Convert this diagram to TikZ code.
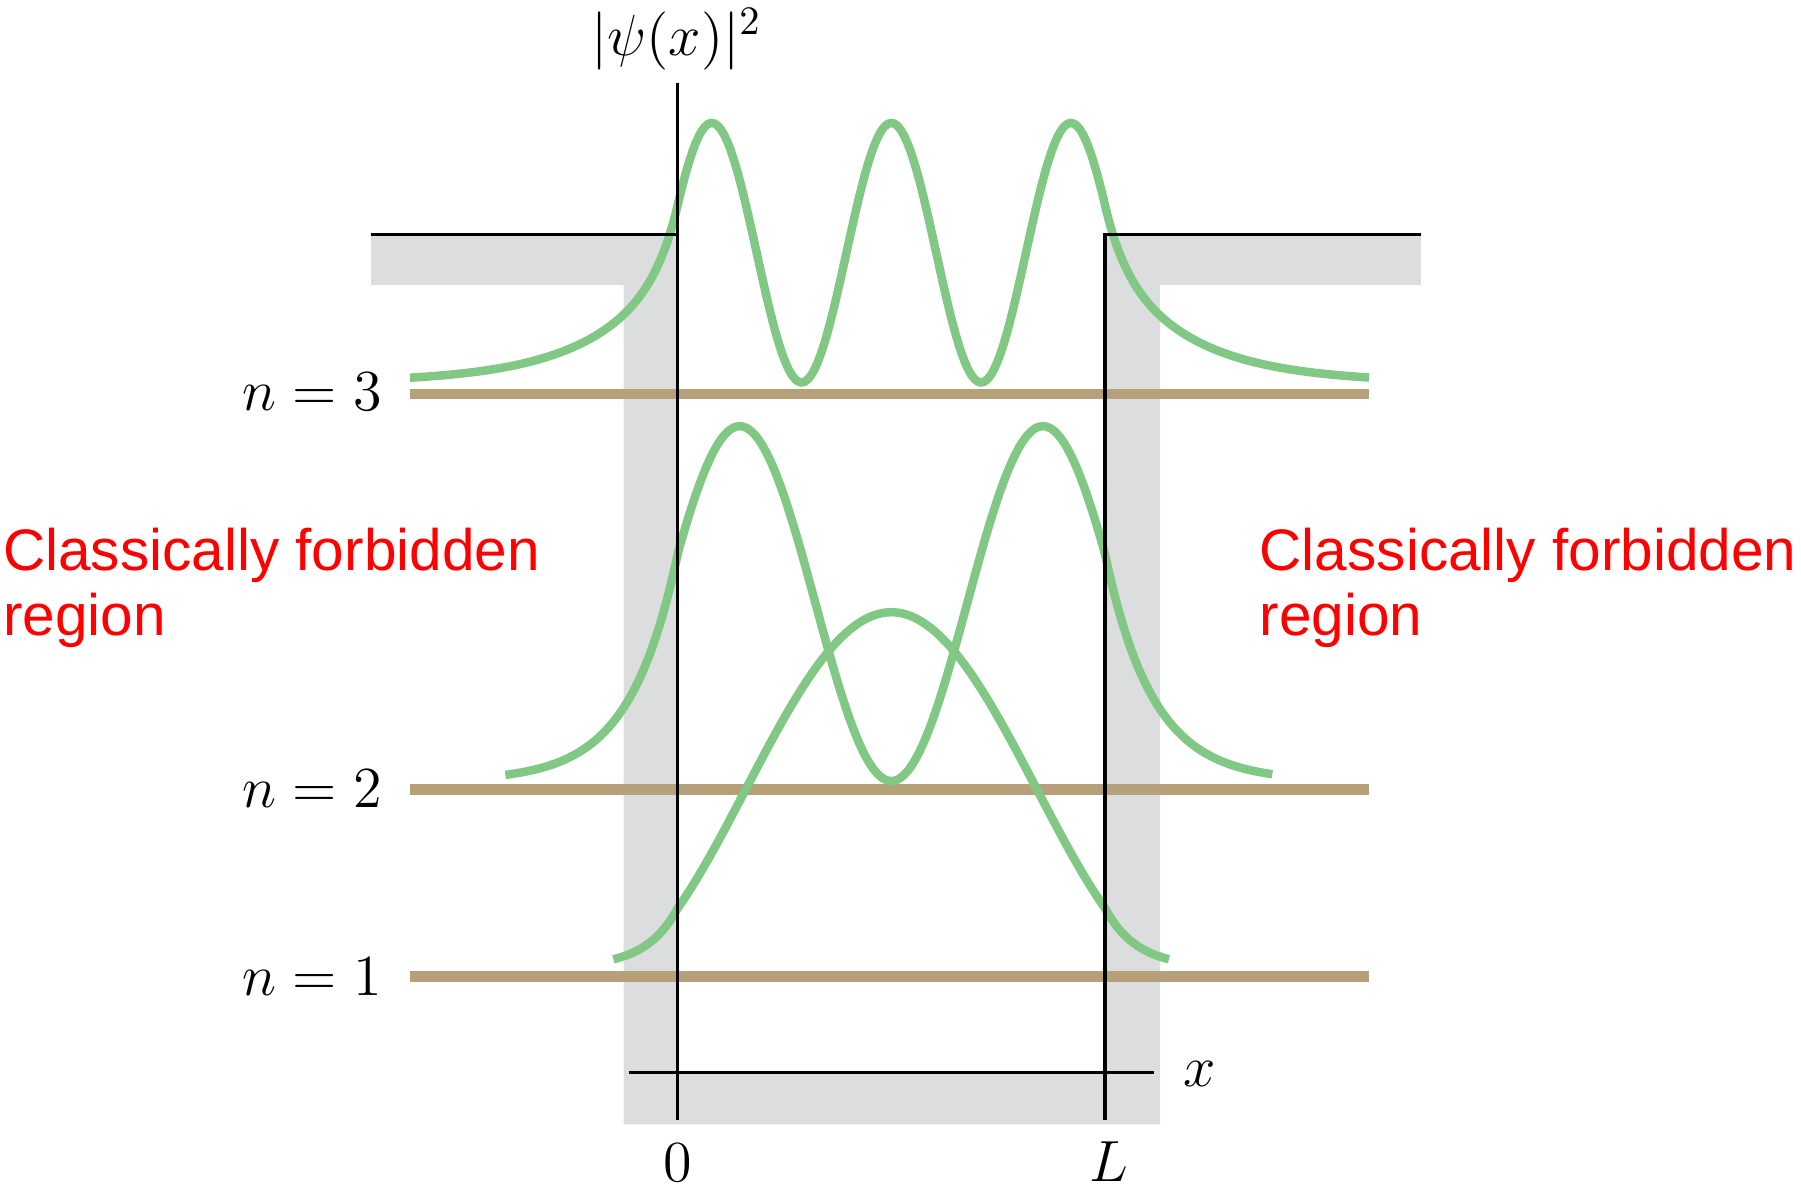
\documentclass[tikz,border=0pt]{standalone}
\usepackage{fontspec}
\newfontfamily\regionfont{Liberation Sans}
\definecolor{wavegreen}{RGB}{128,200,132}
\definecolor{leveltan}{RGB}{181,160,122}
\definecolor{wallgray}{RGB}{220,221,223}

\begin{document}
\begin{tikzpicture}[
  wave/.style={wavegreen, line width=2.1pt},
  level/.style={leveltan, line width=2.7pt},
  wall/.style={black, line width=0.8pt},
  mathlbl/.style={font=\fontsize{15}{18}\selectfont, inner sep=0pt},
  regionlbl/.style={red, font=\regionfont\fontsize{14.5}{16}\selectfont, align=left, anchor=base west, inner sep=0pt}
]
  \useasboundingbox (0,0) rectangle (15.68,10.38);
  % Gray band behind the walls of the finite well
  \fill[wallgray] (3.23,8.34) -- (5.90,8.34) -- (5.90,1.03) -- (9.62,1.03) -- (9.62,8.34)
    -- (12.37,8.34) -- (12.37,7.90) -- (10.10,7.90) -- (10.10,0.59) -- (5.43,0.59)
    -- (5.43,7.90) -- (3.23,7.90) -- cycle;
  % Energy levels
  \draw[level] (3.57,6.95) -- (11.92,6.95);
  \draw[level] (3.57,3.51) -- (11.92,3.51);
  \draw[level] (3.57,1.88) -- (11.92,1.88);
  % Probability densities, center 7.76, half width 1.86
  % n = 1
  \draw[wave] plot[domain=5.34:10.18, samples=200]
    (\x, {1.96 + 3.09*(abs(\x-7.76)<1.86 ? 0.5*(1+cos(deg(2*0.619*(\x-7.76))))
      : 0.166*exp(-3.6*max(abs(\x-7.76)-1.86,0)))});
  % n = 2
  \draw[wave] plot[domain=4.40:11.08, samples=240]
    (\x, {3.58 + 3.09*(abs(\x-7.76)<1.86 ? 0.5*(1-cos(deg(2*1.19*(\x-7.76))))
      : 0.64*exp(-2.4*max(abs(\x-7.76)-1.86,0)))});
  % n = 3 (tail: fast + slow decay so it joins smoothly)
  \draw[wave] plot[domain=3.57:11.92, samples=300]
    (\x, {7.05 + 2.26*(abs(\x-7.76)<1.86 ? 0.5*(1+cos(deg(2*2.01*(\x-7.76))))
      : 0.683*(0.293*exp(-6*max(abs(\x-7.76)-1.86,0)) + 0.707*exp(-1.4*max(abs(\x-7.76)-1.86,0))))});
  % Walls and axes
  \draw[wall] (3.23,8.34) -- (5.90,8.34);
  \draw[wall] (5.90,9.66) -- (5.90,0.63);
  \draw[wall] (9.62,0.63) -- (9.62,8.34) -- (12.37,8.34);
  \draw[wall] (5.48,1.04) -- (10.05,1.04);
  % Labels
  \node[mathlbl, font=\fontsize{14}{17}\selectfont, anchor=base] (psilabel) at (5.89,9.90) {$|\psi(x)|^2$};
  \node[mathlbl, anchor=base east] (levelthree) at (3.33,6.81) {$n = 3$};
  \node[mathlbl, anchor=base east] (leveltwo) at (3.33,3.35) {$n = 2$};
  \node[mathlbl, anchor=base east] (levelone) at (3.33,1.71) {$n = 1$};
  \node[mathlbl, anchor=base] (zerolabel) at (5.90,0.09) {$0$};
  \node[mathlbl, anchor=base] (Llabel) at (9.65,0.09) {$L$};
  \node[mathlbl, anchor=base west] (xlabel) at (10.30,0.92) {$x$};
  \node[regionlbl] (leftregion) at (0.02,4.85) {Classically forbidden\\region};
  \node[regionlbl] (rightregion) at (10.96,4.85) {Classically forbidden\\region};
\end{tikzpicture}
\end{document}
